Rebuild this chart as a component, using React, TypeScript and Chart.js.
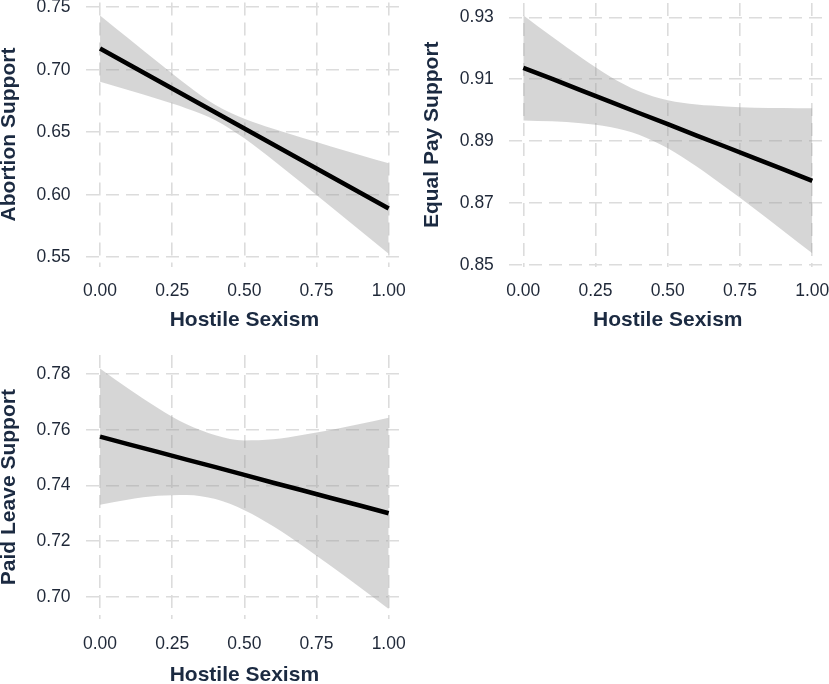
import React, { useEffect, useRef } from "react";
import { Chart, registerables } from "chart.js";

Chart.register(...registerables);

// ---------- data ----------
const X_VALUES = [0, 0.1, 0.2, 0.3, 0.4, 0.5, 0.6, 0.7, 0.8, 0.9, 1.0];
const X_TICKS = [0, 0.25, 0.5, 0.75, 1.0];

const ABORTION_FIT = [0.717, 0.7042, 0.6914, 0.6786, 0.6658, 0.653, 0.6402, 0.6274, 0.6146, 0.6018, 0.589];
const ABORTION_UPPER = [0.7435, 0.7248, 0.7062, 0.6881, 0.6719, 0.6608, 0.6528, 0.6456, 0.6387, 0.6319, 0.6252];
const ABORTION_LOWER = [0.6905, 0.6836, 0.6766, 0.6691, 0.6597, 0.6452, 0.6276, 0.6092, 0.5905, 0.5717, 0.5528];
const ABORTION_TICKS = [0.55, 0.6, 0.65, 0.7, 0.75];

const EQUALPAY_FIT = [0.9137, 0.9101, 0.9064, 0.9028, 0.8991, 0.8955, 0.8918, 0.8882, 0.8845, 0.8809, 0.8772];
const EQUALPAY_UPPER = [0.9307, 0.9237, 0.917, 0.9109, 0.9061, 0.9032, 0.9018, 0.9012, 0.9008, 0.9007, 0.9006];
const EQUALPAY_LOWER = [0.8967, 0.8964, 0.8958, 0.8946, 0.8921, 0.8877, 0.8818, 0.8751, 0.8682, 0.861, 0.8538];
const EQUALPAY_TICKS = [0.85, 0.87, 0.89, 0.91, 0.93];

const PAIDLEAVE_FIT = [0.7576, 0.7548, 0.7521, 0.7493, 0.7466, 0.7438, 0.741, 0.7383, 0.7355, 0.7328, 0.73];
const PAIDLEAVE_UPPER = [0.7821, 0.7747, 0.7679, 0.762, 0.7581, 0.7562, 0.7566, 0.7582, 0.76, 0.7621, 0.7644];
const PAIDLEAVE_LOWER = [0.7331, 0.735, 0.7363, 0.7366, 0.7351, 0.7311, 0.7253, 0.7184, 0.711, 0.7034, 0.6956];
const PAIDLEAVE_TICKS = [0.7, 0.72, 0.74, 0.76, 0.78];

const X_TITLE = "Hostile Sexism";

// ---------- styling ----------
const FONT = "'Liberation Sans', Arial, Helvetica, sans-serif";
const TICK_COLOR = "#1f2838";
const TITLE_COLOR = "#1b2a41";
const GRID_COLOR = "#dcdcdc";
const BAND_COLOR = "rgba(153,153,153,0.4)";

type PanelCfg = {
  yTitle: string;
  fit: number[];
  upper: number[];
  lower: number[];
  yTicks: number[];
  left: number;
  top: number;
  width: number;
  height: number;
  area: { left: number; right: number; top: number; bottom: number };
  yMin: number;
  yMax: number;
  yTitleLH: number;
  yTitlePad: number;
  xTitleLH: number;
  xTitlePad: number;
};

const PANELS: PanelCfg[] = [
  {
    yTitle: "Abortion Support",
    fit: ABORTION_FIT,
    upper: ABORTION_UPPER,
    lower: ABORTION_LOWER,
    yTicks: ABORTION_TICKS,
    left: 0,
    top: 0,
    width: 414,
    height: 342,
    area: { left: 85.6, right: 403.1, top: 2.5, bottom: 266.5 },
    yMin: 0.54264,
    yMax: 0.75384,
    yTitleLH: 0.83,
    yTitlePad: 0,
    xTitleLH: 1,
    xTitlePad: 11.5,
  },
  {
    yTitle: "Equal Pay Support",
    fit: EQUALPAY_FIT,
    upper: EQUALPAY_UPPER,
    lower: EQUALPAY_LOWER,
    yTicks: EQUALPAY_TICKS,
    left: 414,
    top: 0,
    width: 415,
    height: 342,
    area: { left: 94.85, right: 412.75, top: 3, bottom: 266.5 },
    yMin: 0.84952,
    yMax: 0.93462,
    yTitleLH: 1,
    yTitlePad: 8.2,
    xTitleLH: 1,
    xTitlePad: 11.5,
  },
  {
    yTitle: "Paid Leave Support",
    fit: PAIDLEAVE_FIT,
    upper: PAIDLEAVE_UPPER,
    lower: PAIDLEAVE_LOWER,
    yTicks: PAIDLEAVE_TICKS,
    left: 0,
    top: 342,
    width: 414,
    height: 342,
    area: { left: 85.6, right: 403.1, top: 13, bottom: 277.3 },
    yMin: 0.69187,
    yMax: 0.78694,
    yTitleLH: 0.83,
    yTitlePad: 0,
    xTitleLH: 0.88,
    xTitlePad: 0,
  },
];

function Panel({ cfg }: { cfg: PanelCfg }) {
  const ref = useRef<HTMLCanvasElement>(null);
  useEffect(() => {
    if (!ref.current) return;
    const pts = (arr: number[]) => X_VALUES.map((x, i) => ({ x, y: arr[i] }));
    const tickFont = { family: FONT, size: 17.5, weight: "normal" as const, lineHeight: 1.2 };
    const chart = new Chart(ref.current, {
      type: "line",
      data: {
        datasets: [
          {
            data: pts(cfg.upper),
            fill: "+1",
            backgroundColor: BAND_COLOR,
            borderColor: "rgba(0,0,0,0)",
            borderWidth: 0,
            pointRadius: 0,
            cubicInterpolationMode: "monotone",
            order: 2,
          },
          {
            data: pts(cfg.lower),
            fill: false,
            backgroundColor: "rgba(0,0,0,0)",
            borderColor: "rgba(0,0,0,0)",
            borderWidth: 0,
            pointRadius: 0,
            cubicInterpolationMode: "monotone",
            order: 3,
          },
          {
            data: pts(cfg.fit),
            fill: false,
            borderColor: "#000000",
            borderWidth: 4.5,
            borderCapStyle: "butt",
            pointRadius: 0,
            order: 0,
          },
        ],
      },
      options: {
        animation: false,
        responsive: true,
        maintainAspectRatio: false,
        events: [],
        layout: {
          padding: {
            left: 0,
            top: cfg.area.top,
            right: cfg.width - cfg.area.right,
            bottom: 0,
          },
        },
        plugins: {
          legend: { display: false },
          tooltip: { enabled: false },
        },
        scales: {
          x: {
            type: "linear",
            min: -0.05,
            max: 1.05,
            afterBuildTicks: (s: any) => {
              s.ticks = X_TICKS.map((v) => ({ value: v }));
            },
            afterFit: (s: any) => {
              s.height = cfg.height - cfg.area.bottom;
              s.paddingLeft = 0;
              s.paddingRight = 0;
            },
            ticks: {
              callback: (v: any) => Number(v).toFixed(2),
              font: tickFont,
              color: TICK_COLOR,
              padding: 14,
              maxRotation: 0,
              autoSkip: false,
            },
            grid: { color: GRID_COLOR, lineWidth: 1.6, drawTicks: false },
            border: { display: false, dash: [13, 7] },
            title: {
              display: true,
              text: X_TITLE,
              color: TITLE_COLOR,
              font: { family: FONT, size: 21, weight: "bold", lineHeight: cfg.xTitleLH },
              padding: { top: 0, bottom: cfg.xTitlePad },
            },
          },
          y: {
            type: "linear",
            min: cfg.yMin,
            max: cfg.yMax,
            afterBuildTicks: (s: any) => {
              s.ticks = cfg.yTicks.map((v) => ({ value: v }));
            },
            afterFit: (s: any) => {
              s.width = cfg.area.left;
              s.paddingTop = 0;
              s.paddingBottom = 0;
            },
            ticks: {
              callback: (v: any) => Number(v).toFixed(2),
              font: tickFont,
              color: TICK_COLOR,
              padding: 15,
              autoSkip: false,
            },
            grid: { color: GRID_COLOR, lineWidth: 1.6, drawTicks: false },
            border: { display: false, dash: [13, 7] },
            title: {
              display: true,
              text: cfg.yTitle,
              color: TITLE_COLOR,
              font: { family: FONT, size: 21, weight: "bold", lineHeight: cfg.yTitleLH },
              padding: { top: cfg.yTitlePad, bottom: 0 },
            },
          },
        },
      } as any,
    });
    return () => chart.destroy();
  }, [cfg]);

  return (
    <div
      style={{
        position: "absolute",
        left: cfg.left,
        top: cfg.top,
        width: cfg.width,
        height: cfg.height,
      }}
    >
      <canvas ref={ref} style={{ display: "block" }} />
    </div>
  );
}

export default function App() {
  return (
    <div
      style={{
        position: "absolute",
        left: 0,
        top: 0,
        width: 829,
        height: 684,
        background: "#ffffff",
        overflow: "hidden",
      }}
    >
      {PANELS.map((p) => (
        <Panel key={p.yTitle} cfg={p} />
      ))}
    </div>
  );
}
